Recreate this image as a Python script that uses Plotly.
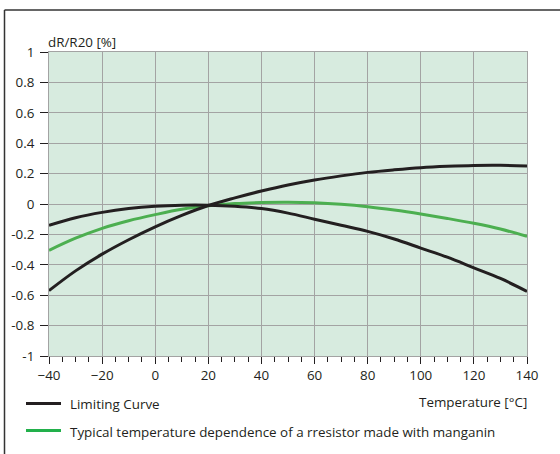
import plotly.graph_objects as go

temps = [-40, -30, -20, -10, 0, 10, 20, 30, 40, 50, 60, 70, 80, 90, 100, 110, 120, 130, 140]
limit_rising = [-0.57, -0.44, -0.33, -0.235, -0.15, -0.075, -0.01, 0.04, 0.085, 0.125, 0.158,
                0.185, 0.208, 0.225, 0.239, 0.248, 0.254, 0.255, 0.25]
limit_falling = [-0.14, -0.09, -0.055, -0.03, -0.015, -0.008, -0.008, -0.015, -0.03, -0.06, -0.10,
                 -0.14, -0.18, -0.23, -0.29, -0.35, -0.42, -0.49, -0.575]
manganin = [-0.305, -0.225, -0.16, -0.11, -0.07, -0.035, -0.012, 0.003, 0.01, 0.012, 0.008,
            -0.002, -0.018, -0.04, -0.066, -0.095, -0.127, -0.165, -0.213]

x_ticks = [-40, -20, 0, 20, 40, 60, 80, 100, 120, 140]
y_ticks = [-1, -0.8, -0.6, -0.4, -0.2, 0, 0.2, 0.4, 0.6, 0.8, 1]
y_ticktext = ["-1", "-0.8", "-0.6", "-0.4", "-0.2", "0", "0.2", "0.4", "0.6", "0.8", "1"]

BLACK = "#231f20"
GREEN = "#4caf50"
GREEN_LEG = "#22b04b"
FONT = "Open Sans"
FS = 13.4

fig = go.Figure()
fig.add_trace(go.Scatter(x=temps, y=manganin, mode="lines", line=dict(color=GREEN, width=3, shape="spline"),
                         name="Typical temperature dependence of a rresistor made with manganin", showlegend=False))
fig.add_trace(go.Scatter(x=temps, y=limit_falling, mode="lines", line=dict(color=BLACK, width=3, shape="spline"),
                         name="Limiting Curve", showlegend=False))
fig.add_trace(go.Scatter(x=temps, y=limit_rising, mode="lines", line=dict(color=BLACK, width=3, shape="spline"),
                         name="Limiting Curve", showlegend=False))

W, H = 560, 454
L, R, T, B = 49, 33, 52, 98
pw, ph = W - L - R, H - T - B

def px(x):
    return (x - L) / pw

def py(y):
    return (H - B - y) / ph

shapes = [
    dict(type="line", xref="paper", yref="paper", x0=px(4.5), x1=px(4.5), y0=py(10), y1=py(454),
         line=dict(color="#333333", width=1.5)),
    dict(type="line", xref="paper", yref="paper", x0=px(4.5), x1=px(560), y0=py(10), y1=py(10),
         line=dict(color="#333333", width=1.5)),
    dict(type="line", xref="paper", yref="paper", x0=px(26), x1=px(61), y0=py(403.5), y1=py(403.5),
         line=dict(color=BLACK, width=3)),
    dict(type="line", xref="paper", yref="paper", x0=px(26), x1=px(61), y0=py(430.5), y1=py(430.5),
         line=dict(color=GREEN_LEG, width=3)),
]

annotations = [
    dict(text="dR/R20 [%]", xref="paper", yref="paper", x=px(46), y=py(42), xanchor="left", yanchor="middle",
         showarrow=False, font=dict(family=FONT, size=FS, color=BLACK)),
    dict(text="Temperature [°C]", xref="paper", yref="paper", x=px(529), y=py(402), xanchor="right",
         yanchor="middle", showarrow=False, font=dict(family=FONT, size=FS, color=BLACK)),
    dict(text="Limiting Curve", xref="paper", yref="paper", x=px(68), y=py(404), xanchor="left",
         yanchor="middle", showarrow=False, font=dict(family=FONT, size=FS, color=BLACK)),
    dict(text="Typical temperature dependence of a rresistor made with manganin", xref="paper", yref="paper",
         x=px(68), y=py(431.5), xanchor="left", yanchor="middle", showarrow=False,
         font=dict(family=FONT, size=FS, color=BLACK)),
]

fig.update_layout(
    width=W, height=H,
    margin=dict(l=L, r=R, t=T, b=B, pad=0),
    paper_bgcolor="white",
    plot_bgcolor="#d7ebdf",
    font=dict(family=FONT, size=FS, color=BLACK),
    shapes=shapes,
    annotations=annotations,
    showlegend=False,
)
fig.update_xaxes(range=[-40, 140], tickvals=x_ticks, showgrid=True, gridcolor="#a3a3a3", gridwidth=1,
                 ticks="outside", ticklen=7, tickcolor=BLACK, tickwidth=1,
                 minor=dict(dtick=5, tick0=0, ticks="outside", ticklen=5, tickcolor=BLACK, showgrid=False),
                 showline=True, linecolor="#a3a3a3", linewidth=1, mirror=True, zeroline=False,
                 tickfont=dict(family=FONT, size=FS))
fig.update_yaxes(range=[-1, 1], tickvals=y_ticks, ticktext=y_ticktext, showgrid=True, gridcolor="#a3a3a3",
                 gridwidth=1, ticks="outside", ticklen=8, tickcolor=BLACK, tickwidth=1,
                 ticklabelstandoff=3,
                 showline=True, linecolor="#a3a3a3", linewidth=1, mirror=True, zeroline=False,
                 tickfont=dict(family=FONT, size=FS))

fig.write_html("out.html")
